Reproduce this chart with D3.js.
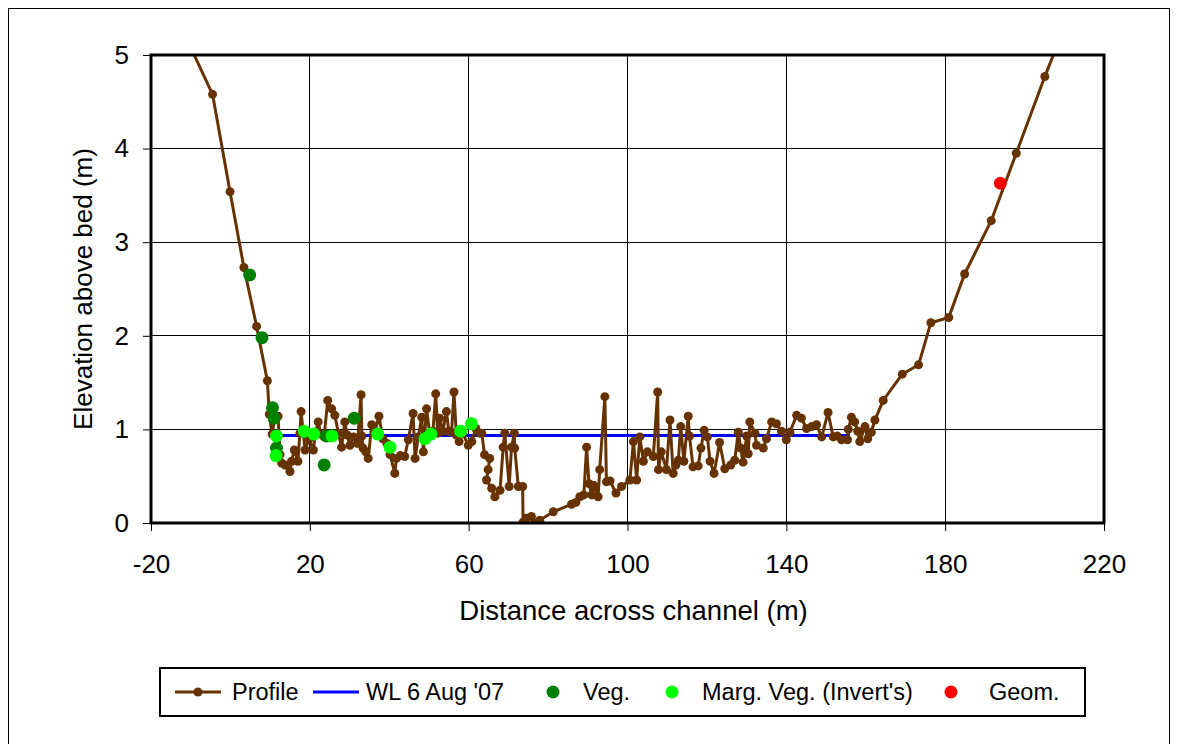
<!DOCTYPE html>
<html>
<head>
<meta charset="utf-8">
<script src="https://cdn.jsdelivr.net/npm/d3@7"></script>
<style>
  body { margin: 0; background: #fff; }
  svg { font-family: Arial, "Liberation Sans", sans-serif; }
</style>
</head>
<body>
<div id="chart"></div>
<script>
// 1: DATA
// cross-section profile, distance (m) / elevation (m)
const profileX = [-14.6, -4.5, -0.1, 3.4, 6.6, 9.3, 9.8, 10.5, 11.2, 12.0, 12.5, 12.9, 13.8, 15.0, 15.4, 16.1, 17.0, 17.5, 17.8, 18.3,
  18.8, 19.8, 20.9, 21.4, 22.1, 22.8, 23.6, 24.5, 25.5, 26.3, 27.2, 28.0, 28.8, 29.4, 30.1, 31.0, 32.0, 32.9, 33.1, 33.4,
  34.1, 34.7, 35.6, 36.3, 37.4, 38.4, 39.4, 40.2, 41.4, 41.8, 42.8, 43.9, 44.8, 46.0, 46.5, 47.3, 48.2, 48.6, 49.4, 50.2,
  51.0, 51.7, 52.2, 52.7, 53.5, 54.4, 55.0, 55.7, 56.3, 56.9, 57.6, 58.5, 59.9, 60.8, 61.8, 62.8, 63.3, 64.0, 65.3, 64.9,
  64.5, 65.8, 66.6, 67.9, 68.7, 69.1, 70.2, 70.8, 71.5, 71.6, 72.5, 73.6, 73.7, 74.5, 75.8, 76.6, 77.9, 81.3, 85.9, 87.0,
  88.0, 89.0, 89.7, 90.3, 91.0, 91.6, 92.6, 93.0, 94.3, 94.7, 95.6, 97.1, 98.5, 100.6, 101.5, 102.3, 103.1, 104.0, 105.0, 106.5,
  107.6, 107.8, 108.5, 109.8, 110.7, 111.5, 112.2, 112.8, 113.4, 114.2, 115.3, 115.6, 116.5, 117.8, 118.5, 119.3, 120.1, 120.8, 121.8, 123.2,
  124.5, 126.0, 127.0, 127.9, 128.5, 129.1, 130.0, 130.4, 130.8, 132.1, 132.5, 134.2, 135.0, 136.3, 137.5, 138.8, 140.0, 140.9, 142.6, 143.8,
  145.1, 146.4, 147.6, 148.9, 150.5, 151.8, 152.8, 153.9, 155.4, 155.6, 156.4, 157.2, 158.0, 158.5, 159.8, 160.5, 161.4, 162.3, 164.4, 169.2,
  173.3, 176.4, 180.9, 184.9, 191.6, 197.9, 205.1, 211.9];
const profileY = [5.5, 4.58, 3.54, 2.73, 2.10, 1.52, 1.16, 0.95, 1.13, 1.14, 0.73, 0.64, 0.62, 0.55, 0.66, 0.78, 0.66, 0.96, 1.19, 0.98,
  0.78, 0.90, 0.78, 0.96, 1.08, 0.95, 0.92, 1.31, 1.22, 1.15, 0.96, 0.81, 1.08, 0.94, 0.83, 0.92, 0.85, 1.37, 0.93, 0.80,
  0.76, 0.69, 1.05, 0.96, 1.14, 0.90, 0.85, 0.73, 0.53, 0.69, 0.72, 0.71, 0.89, 1.17, 0.69, 0.92, 1.13, 0.76, 1.22, 0.95,
  0.98, 1.38, 0.96, 1.12, 0.98, 1.19, 0.98, 0.97, 1.40, 0.94, 0.87, 0.96, 0.83, 0.87, 1.01, 0.96, 0.96, 0.73, 0.69, 0.57,
  0.46, 0.37, 0.28, 0.35, 0.81, 0.96, 0.39, 0.81, 0.96, 0.80, 0.39, 0.39, 0.01, 0.05, 0.07, 0.00, 0.03, 0.12, 0.20, 0.22,
  0.28, 0.30, 0.81, 0.42, 0.30, 0.40, 0.28, 0.57, 1.35, 0.44, 0.45, 0.32, 0.39, 0.46, 0.87, 0.46, 0.92, 0.66, 0.76, 0.71,
  1.40, 0.57, 0.76, 0.57, 1.10, 0.53, 0.62, 0.67, 1.03, 0.66, 1.14, 0.93, 0.60, 0.61, 0.80, 0.99, 0.92, 0.66, 0.53, 0.86,
  0.58, 0.62, 0.67, 0.97, 0.80, 0.65, 0.93, 0.74, 1.08, 0.96, 0.83, 0.80, 0.90, 1.08, 1.06, 0.98, 0.89, 0.97, 1.15, 1.12,
  1.01, 1.03, 1.05, 0.92, 1.18, 0.92, 0.93, 0.89, 0.89, 1.00, 1.13, 1.08, 0.98, 0.87, 1.03, 0.90, 0.97, 1.10, 1.31, 1.59,
  1.69, 2.14, 2.195, 2.66, 3.23, 3.95, 4.77, 5.5];

// water level 6 Aug '07
const wlX = [11.0, 156.0];
const wlY = [0.935, 0.935];

// vegetation points
const vegX = [4.85, 7.95, 10.6, 11.0, 11.6, 23.6, 24.2, 31.2];
const vegY = [2.65, 1.98, 1.23, 1.12, 0.80, 0.62, 0.93, 1.12];

// marginal vegetation (invertebrates)
const margX = [11.6, 11.5, 18.6, 21.0, 25.6, 37.1, 40.2, 49.0, 50.5, 58.0, 60.7];
const margY = [0.93, 0.72, 0.98, 0.95, 0.93, 0.95, 0.81, 0.90, 0.95, 0.98, 1.06];

// geomorphology
const geomX = [193.9];
const geomY = [3.63];

const xTicks = [-20, 20, 60, 100, 140, 180, 220];
const yTicks = [0, 1, 2, 3, 4, 5];
const legendLabels = ["Profile", "WL 6 Aug '07", "Veg.", "Marg. Veg. (Invert's)", "Geom."];

const zip = (xs, ys) => xs.map((x, i) => ({ x: x, y: ys[i] }));

// 2: SVG + SCALES
const W = 1178, H = 744;
const plot = { left: 151, top: 55, right: 1104, bottom: 523 };

const svg = d3.select("#chart").append("svg")
    .attr("width", W)
    .attr("height", H);

// outer chart border
svg.append("rect")
    .attr("x", 8.5).attr("y", 8.5)
    .attr("width", 1161).attr("height", 760)
    .attr("fill", "none")
    .attr("stroke", "#000")
    .attr("stroke-width", 1);

const xScale = d3.scaleLinear().domain([-20, 220]).range([plot.left, plot.right]);
const yScale = d3.scaleLinear().domain([0, 5]).range([plot.bottom, plot.top]);

svg.append("clipPath").attr("id", "clip")
    .append("rect")
    .attr("x", plot.left).attr("y", plot.top)
    .attr("width", plot.right - plot.left)
    .attr("height", plot.bottom - plot.top);

// 3: GRIDLINES
svg.append("g").selectAll("line")
    .data(xTicks.slice(1, -1))
    .enter().append("line")
    .attr("x1", d => xScale(d)).attr("x2", d => xScale(d))
    .attr("y1", plot.top).attr("y2", plot.bottom)
    .attr("stroke", "#000").attr("stroke-width", 1)
    .attr("shape-rendering", "crispEdges");

svg.append("g").selectAll("line")
    .data(yTicks.slice(1, -1))
    .enter().append("line")
    .attr("x1", plot.left).attr("x2", plot.right)
    .attr("y1", d => yScale(d)).attr("y2", d => yScale(d))
    .attr("stroke", "#000").attr("stroke-width", 1)
    .attr("shape-rendering", "crispEdges");

// 4: AXES
const xAxis = svg.append("g")
    .attr("transform", `translate(0, ${plot.bottom})`)
    .call(d3.axisBottom(xScale).tickValues(xTicks).tickSize(8).tickPadding(24)
        .tickFormat(d => String(d)));
const yAxis = svg.append("g")
    .attr("transform", `translate(${plot.left}, 0)`)
    .call(d3.axisLeft(yScale).tickValues(yTicks).tickSize(8).tickPadding(14)
        .tickFormat(d => String(d)));

[xAxis, yAxis].forEach(a => {
    a.select(".domain").remove();
    a.selectAll(".tick line").attr("stroke", "#000").attr("stroke-width", 1);
    a.selectAll(".tick text")
        .attr("fill", "#000")
        .style("font-family", "Arial, 'Liberation Sans', sans-serif")
        .style("font-size", "26px");
});

// 5: SERIES
const g = svg.append("g").attr("clip-path", "url(#clip)");

const line = d3.line().x(d => xScale(d.x)).y(d => yScale(d.y));

g.append("path")
    .datum(zip(wlX, wlY))
    .attr("d", line)
    .attr("fill", "none")
    .attr("stroke", "#0000ff")
    .attr("stroke-width", 3);

g.append("path")
    .datum(zip(profileX, profileY))
    .attr("d", line)
    .attr("fill", "none")
    .attr("stroke", "#663300")
    .attr("stroke-width", 3)
    .attr("stroke-linejoin", "round");

g.append("g").selectAll("circle")
    .data(zip(profileX, profileY))
    .enter().append("circle")
    .attr("cx", d => xScale(d.x))
    .attr("cy", d => yScale(d.y))
    .attr("r", 4.5)
    .attr("fill", "#663300");

const dots = (data, color) => g.append("g").selectAll("circle")
    .data(data)
    .enter().append("circle")
    .attr("cx", d => xScale(d.x))
    .attr("cy", d => yScale(d.y))
    .attr("r", 6.5)
    .attr("fill", color);

dots(zip(vegX, vegY), "#008000");
dots(zip(margX, margY), "#00ff00");
dots(zip(geomX, geomY), "#ff0000");

// plot area frame
svg.append("rect")
    .attr("x", plot.left).attr("y", plot.top)
    .attr("width", plot.right - plot.left)
    .attr("height", plot.bottom - plot.top)
    .attr("fill", "none")
    .attr("stroke", "#000")
    .attr("stroke-width", 3);

// 6: AXIS TITLES
svg.append("text")
    .attr("x", (plot.left + plot.right) / 2 + 6)
    .attr("y", 620)
    .attr("text-anchor", "middle")
    .style("font-size", "27.5px")
    .text("Distance across channel (m)");

svg.append("text")
    .attr("transform", "rotate(-90)")
    .attr("x", -(plot.top + plot.bottom) / 2)
    .attr("y", 92)
    .attr("text-anchor", "middle")
    .style("font-size", "26px")
    .text("Elevation above bed (m)");

// 7: LEGEND
const legend = svg.append("g");
legend.append("rect")
    .attr("x", 160).attr("y", 668)
    .attr("width", 925).attr("height", 48)
    .attr("fill", "#fff")
    .attr("stroke", "#000")
    .attr("stroke-width", 2);

const ly = 692;
const legendPos = [
    { sx: 175, tx: 232 },
    { sx: 313, tx: 366 },
    { sx: 553, tx: 583 },
    { sx: 672, tx: 702 },
    { sx: 951, tx: 989 }
];
const legendColors = ["#663300", "#0000ff", "#008000", "#00ff00", "#ff0000"];

legendLabels.forEach((lab, i) => {
    const p = legendPos[i];
    if (i < 2) {
        legend.append("line")
            .attr("x1", p.sx).attr("x2", p.sx + 46)
            .attr("y1", ly).attr("y2", ly)
            .attr("stroke", legendColors[i])
            .attr("stroke-width", 3);
        if (i === 0) {
            legend.append("circle")
                .attr("cx", p.sx + 23).attr("cy", ly).attr("r", 4.5)
                .attr("fill", legendColors[i]);
        }
    } else {
        legend.append("circle")
            .attr("cx", p.sx).attr("cy", ly).attr("r", 6.5)
            .attr("fill", legendColors[i]);
    }
    legend.append("text")
        .attr("x", p.tx).attr("y", ly)
        .attr("dy", "0.35em")
        .style("font-size", "23.5px")
        .text(lab);
});
</script>
</body>
</html>
